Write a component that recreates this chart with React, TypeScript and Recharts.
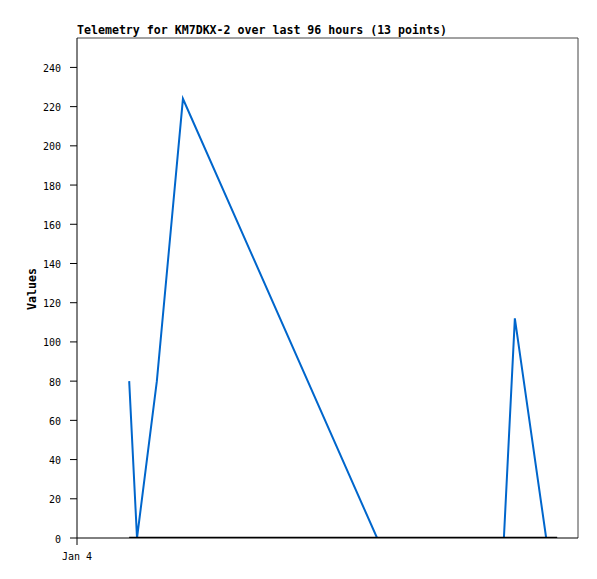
import React from "react";
import { LineChart, Line, XAxis, YAxis, ReferenceLine } from "recharts";

const title = "Telemetry for KM7DKX-2 over last 96 hours (13 points)";
const yAxisTitle = "Values";
const hoursSinceStart = [10.0, 11.5, 15.3, 20.3, 57.5, 62.0, 67.0, 72.0, 77.0, 81.8, 83.9, 89.9, 92.0];
const valuesA = [80, 0, 80, 224, 0, 0, 0, 0, 0, 0, 112, 0, 0];
const valuesB = [0, 0, 0, 0, 0, 0, 0, 0, 0, 0, 0, 0, 0];
const yTicks = [0, 20, 40, 60, 80, 100, 120, 140, 160, 180, 200, 220, 240];
const xTicks = [0];
const xTickLabels = ["Jan 4"];

const data = hoursSinceStart.map((h, i) => ({ h, a: valuesA[i], b: valuesB[i] }));

const mono = "'DejaVu Sans Mono', 'Liberation Mono', monospace";

export default function App() {
  return (
    <div style={{ position: "absolute", left: 0, top: 0, width: 597, height: 579, background: "#fff" }}>
      <svg width={597} height={579} style={{ position: "absolute", left: 0, top: 0 }}>
        <text x={77} y={34} fontFamily={mono} fontWeight="bold" fontSize={11.6} fill="#000">
          {title}
        </text>
      </svg>
      <div style={{ position: "absolute", left: 0, top: 0 }}>
        <LineChart width={597} height={579} data={data} margin={{ top: 38, right: 19, bottom: 11, left: 0 }}>
          <XAxis
            dataKey="h"
            type="number"
            domain={[0, 96]}
            ticks={xTicks}
            tickFormatter={(v: number) => xTickLabels[xTicks.indexOf(v)] ?? ""}
            height={30}
            stroke="#000"
            tickSize={7}
            tickMargin={8}
            tick={{ fill: "#000", fontSize: 10, fontFamily: mono }}
            allowDataOverflow
          />
          <YAxis
            type="number"
            domain={[0, 255]}
            ticks={yTicks}
            width={77}
            stroke="#000"
            tickSize={7}
            tickMargin={9}
            tick={{ fill: "#000", fontSize: 10, fontFamily: mono, dy: 1 }}
            allowDataOverflow
            label={{
              value: yAxisTitle,
              content: (props: any) => {
                const vb = props.viewBox || { x: 0, y: 38, width: 77, height: 500 };
                const cx = vb.x + 32;
                const cy = vb.y + vb.height / 2 + 1;
                return (
                  <text
                    x={cx}
                    y={cy}
                    transform={`rotate(-90 ${cx} ${cy})`}
                    textAnchor="middle"
                    dominantBaseline="central"
                    fontFamily={mono}
                    fontWeight="bold"
                    fontSize={11.6}
                    fill="#000"
                  >
                    {yAxisTitle}
                  </text>
                );
              },
            }}
          />
          <ReferenceLine y={255} stroke="#444" strokeWidth={1} ifOverflow="extendDomain" />
          <ReferenceLine x={96} stroke="#444" strokeWidth={1} ifOverflow="extendDomain" />
          <Line
            type="linear"
            dataKey="a"
            stroke="#0066cc"
            strokeWidth={2}
            dot={false}
            activeDot={false}
            isAnimationActive={false}
          />
          <Line
            type="linear"
            dataKey="b"
            stroke="#000"
            strokeWidth={2.5}
            dot={false}
            activeDot={false}
            isAnimationActive={false}
          />
        </LineChart>
      </div>
    </div>
  );
}
